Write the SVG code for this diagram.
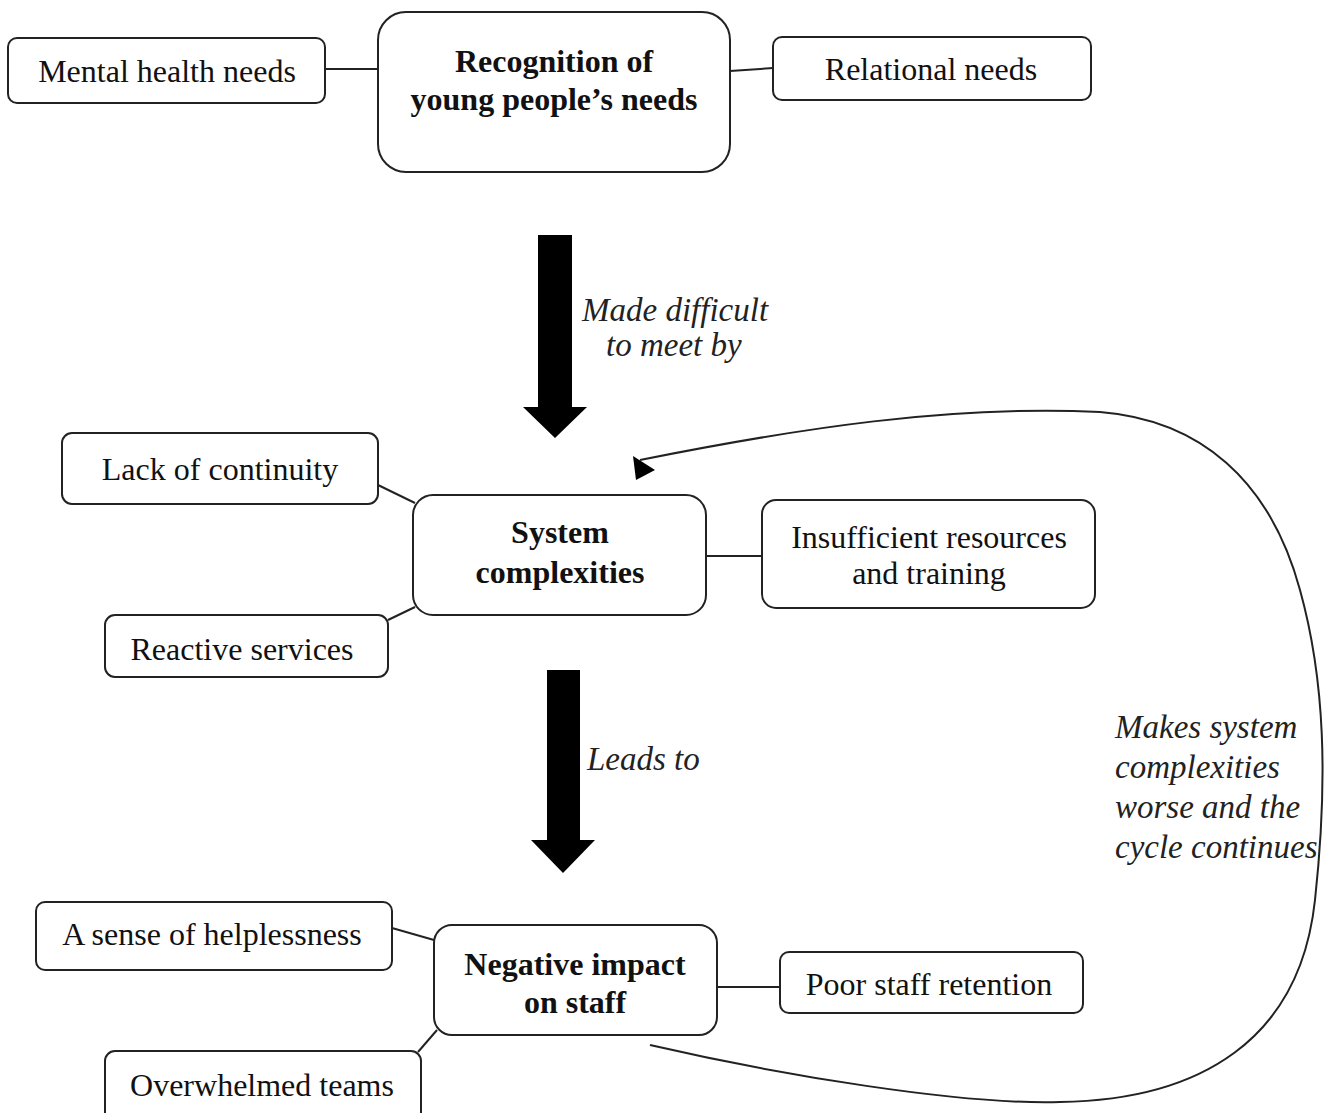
<svg xmlns="http://www.w3.org/2000/svg" width="1329" height="1113" viewBox="0 0 1329 1113">
<style>
.box{fill:#fff;stroke:#222;stroke-width:2}
.t{font-family:"Liberation Serif","Times New Roman",serif;font-size:32px;fill:#111;text-anchor:middle}
.b{font-weight:bold}
.i{font-family:"Liberation Serif","Times New Roman",serif;font-size:33px;font-style:italic;fill:#222}
.ln{stroke:#222;stroke-width:2;fill:none}
</style>
<rect width="1329" height="1113" fill="#fff"/>
<g id="connectors">
<line class="ln" x1="325" y1="69" x2="378" y2="69"/>
<line class="ln" x1="730" y1="71" x2="773" y2="68"/>
<line class="ln" x1="378" y1="485" x2="415" y2="503"/>
<line class="ln" x1="388" y1="620" x2="415" y2="607"/>
<line class="ln" x1="706" y1="556" x2="762" y2="556"/>
<line class="ln" x1="392" y1="928" x2="434" y2="940"/>
<line class="ln" x1="418" y1="1052" x2="437" y2="1030"/>
<line class="ln" x1="717" y1="987" x2="780" y2="987"/>
<polygon points="538,235 572,235 572,407 587,407 555,438 523,407 538,407" fill="#000"/>
<polygon points="547,670 580,670 580,840 595,840 563,873 531,840 547,840" fill="#000"/>
<path class="ln" d="M650,1045 C780,1075 960,1105 1060,1102 C1200,1100 1300,1040 1315,900 C1328,780 1325,680 1300,590 C1270,480 1200,420 1100,412 C950,405 800,428 640,460"/>
<polygon points="633,456 636,480 655,470" fill="#000"/>
<text class="i" x="582" y="321">Made difficult</text>
<text class="i" x="606" y="356">to meet by</text>
<text class="i" x="587" y="770">Leads to</text>
<text class="i" x="1115" y="738">Makes system</text>
<text class="i" x="1115" y="778">complexities</text>
<text class="i" x="1115" y="818">worse and the</text>
<text class="i" x="1115" y="858">cycle continues</text>
</g>
<g id="recognition">
<rect class="box" x="378" y="12" width="352" height="160" rx="28"/>
<text class="t b" x="554" y="72">Recognition of</text>
<text class="t b" x="554" y="110">young people’s needs</text>
</g>
<g id="mental">
<rect class="box" x="8" y="38" width="317" height="65" rx="9"/>
<text class="t" x="167" y="82">Mental health needs</text>
</g>
<g id="relational">
<rect class="box" x="773" y="37" width="318" height="63" rx="9"/>
<text class="t" x="931" y="80">Relational needs</text>
</g>
<g id="system">
<rect class="box" x="413" y="495" width="293" height="120" rx="20"/>
<text class="t b" x="560" y="543">System</text>
<text class="t b" x="560" y="583">complexities</text>
</g>
<g id="lack">
<rect class="box" x="62" y="433" width="316" height="71" rx="10"/>
<text class="t" x="220" y="480">Lack of continuity</text>
</g>
<g id="reactive">
<rect class="box" x="105" y="615" width="283" height="62" rx="10"/>
<text class="t" x="242" y="660">Reactive services</text>
</g>
<g id="insufficient">
<rect class="box" x="762" y="500" width="333" height="108" rx="14"/>
<text class="t" x="929" y="548">Insufficient resources</text>
<text class="t" x="929" y="584">and training</text>
</g>
<g id="negative">
<rect class="box" x="434" y="925" width="283" height="110" rx="18"/>
<text class="t b" x="575" y="975">Negative impact</text>
<text class="t b" x="575" y="1013">on staff</text>
</g>
<g id="helplessness">
<rect class="box" x="36" y="902" width="356" height="68" rx="9"/>
<text class="t" x="212" y="945">A sense of helplessness</text>
</g>
<g id="poor">
<rect class="box" x="780" y="952" width="303" height="61" rx="9"/>
<text class="t" x="929" y="995">Poor staff retention</text>
</g>
<g id="overwhelmed">
<rect class="box" x="105" y="1051" width="316" height="80" rx="10"/>
<text class="t" x="262" y="1096">Overwhelmed teams</text>
</g>
</svg>
